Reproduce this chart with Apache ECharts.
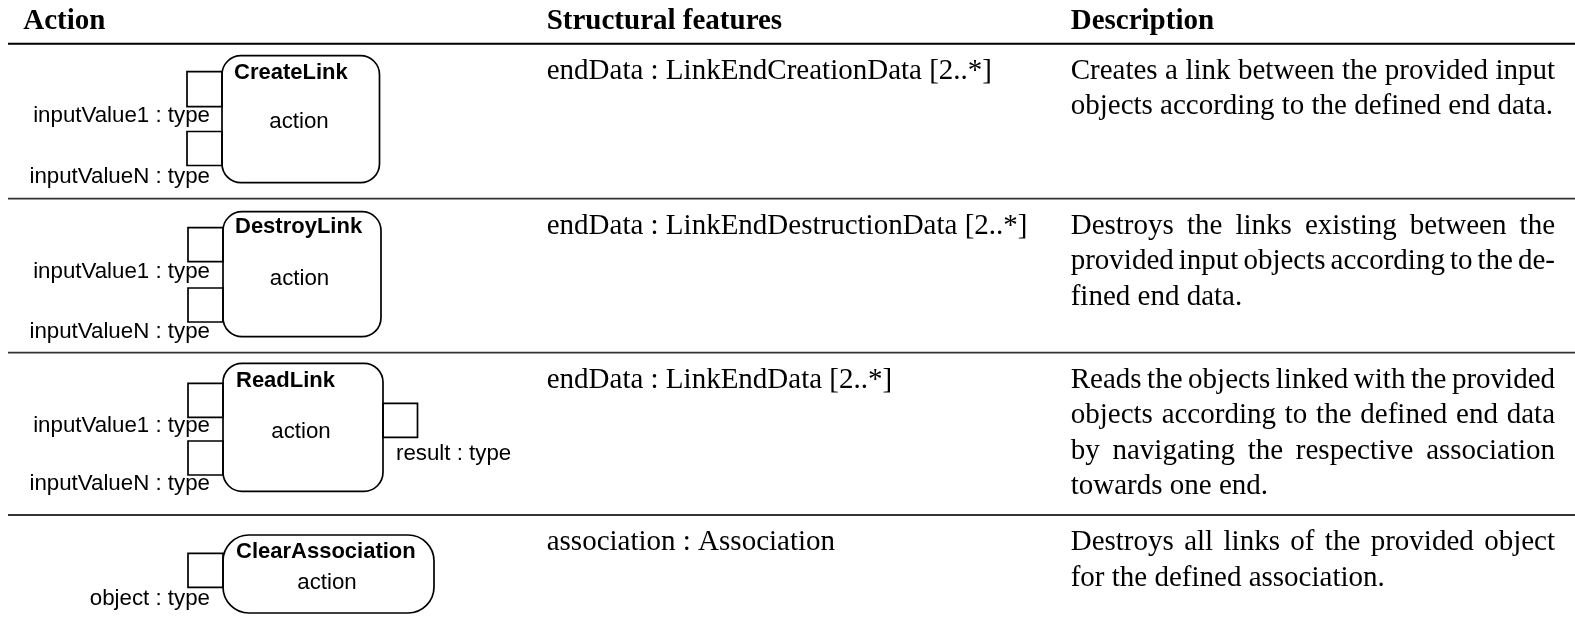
<!DOCTYPE html>
<html><head><meta charset="utf-8">
<script src="https://cdn.jsdelivr.net/npm/echarts@6/dist/echarts.min.js"></script>
<style>html,body{margin:0;padding:0;background:#fff}#c{width:1575px;height:619px}</style>
</head><body><div id="c"></div>
<script>
// ---------- data ----------
const headers = ['Action', 'Structural features', 'Description'];
const actionNames = ['CreateLink', 'DestroyLink', 'ReadLink', 'ClearAssociation'];
const actionBody = 'action';
const inputPinLabels = [
  ['inputValue1 : type', 'inputValueN : type'],
  ['inputValue1 : type', 'inputValueN : type'],
  ['inputValue1 : type', 'inputValueN : type'],
  ['object : type']
];
const outputPinLabels = [[], [], ['result : type'], []];
const features = [
  'endData : LinkEndCreationData [2..*]',
  'endData : LinkEndDestructionData [2..*]',
  'endData : LinkEndData [2..*]',
  'association : Association'
];
const descriptions = [
  ['Creates a link between the provided input', 'objects according to the defined end data.'],
  ['Destroys the links existing between the', 'provided input objects according to the de-', 'fined end data.'],
  ['Reads the objects linked with the provided', 'objects according to the defined end data', 'by navigating the respective association', 'towards one end.'],
  ['Destroys all links of the provided object', 'for the defined association.']
];

// ---------- layout ----------
const SERIF = '"Liberation Serif", "Times New Roman", serif';
const SANS = '"Liberation Sans", Arial, sans-serif';
const FS = 29, FA = 22.3, FB = 22;
const LINE = 35.5;
const ruleY = [43.7, 198.7, 352.7, 515];
const headBase = 31.7;
const colX = [23.3, 546.7, 1070.7];
const descRight = 1555;
const firstOff = 37.3;
const boxes = [
  {box: [222, 55.7, 157.5, 127, 19], pins: [[187, 71.7, 35, 35], [187, 131.5, 35, 34]], labBase: [123.3, 185], labRight: 210,
   name: [234, 81], act: [299, 130], out: null},
  {box: [223, 211.7, 158, 125, 19], pins: [[188, 227.7, 35, 34], [188, 288, 35, 34]], labBase: [280, 340], labRight: 210,
   name: [235, 235], act: [299.5, 286.7], out: null},
  {box: [223, 363.3, 160, 128, 19], pins: [[188, 383.3, 35, 34], [188, 441, 35, 34]], labBase: [433.3, 491.7], labRight: 210,
   name: [236, 388.3], act: [301, 440], out: {pin: [383, 403.3, 34.5, 34], lab: [396, 461.7]}},
  {box: [223, 535, 211, 78, 26], pins: [[188, 553.3, 35, 34]], labBase: [606.7], labRight: 210,
   name: [236, 560], act: [327, 590.7], out: null}
];

// ---------- helpers ----------
const measureCtx = document.createElement('canvas').getContext('2d');
function measure(t, size, fam, weight) {
  measureCtx.font = (weight || 'normal') + ' ' + size + 'px ' + fam;
  return measureCtx.measureText(t).width;
}
function txt(t, x, base, size, fam, weight, align) {
  const k = fam === SANS ? 0.3465 : 0.3375;
  return {type: 'text', x: x, y: base - k * size, silent: true,
    style: {text: t, fontSize: size, fontFamily: fam, fontWeight: weight || 'normal', fill: '#000',
      align: align || 'left', verticalAlign: 'middle'}};
}
function rect(x, y, w, h, r) {
  return {type: 'rect', shape: {x: x, y: y, width: w, height: h, r: r || 0}, silent: true,
    style: {fill: 'none', stroke: '#000', lineWidth: 1.7}};
}
function line(x1, y, x2, w, c) {
  return {type: 'line', shape: {x1: x1, y1: y, x2: x2, y2: y}, silent: true,
    style: {stroke: c, lineWidth: w}};
}

const els = [];
// header
headers.forEach((h, i) => els.push(txt(h, colX[i], headBase, FS, SERIF, 'bold')));
els.push(line(8, ruleY[0], 1575, 2, '#000'));
for (let i = 1; i < ruleY.length; i++) els.push(line(8, ruleY[i], 1575, 1.8, '#333'));

actionNames.forEach((name, r) => {
  const L = boxes[r];
  const top = ruleY[r];
  // structural feature
  els.push(txt(features[r], colX[1], top + firstOff, FS, SERIF));
  // description (justified, last line ragged)
  const lines = descriptions[r];
  lines.forEach((ln, j) => {
    const base = top + firstOff + j * LINE;
    if (j === lines.length - 1) { els.push(txt(ln, colX[2], base, FS, SERIF)); return; }
    const words = ln.split(' ');
    const ws = words.map(w => measure(w, FS, SERIF));
    const tot = ws.reduce((a, b) => a + b, 0);
    const gap = (descRight - colX[2] - tot) / (words.length - 1);
    let x = colX[2];
    words.forEach((w, k) => { els.push(txt(w, x, base, FS, SERIF)); x += ws[k] + gap; });
  });
  // action diagram
  const b = L.box;
  els.push(rect(b[0], b[1], b[2], b[3], b[4]));
  L.pins.forEach(p => els.push(rect(p[0], p[1], p[2], p[3])));
  inputPinLabels[r].forEach((t, k) => els.push(txt(t, L.labRight, L.labBase[k], FA, SANS, 'normal', 'right')));
  if (L.out) {
    els.push(rect(L.out.pin[0], L.out.pin[1], L.out.pin[2], L.out.pin[3]));
    outputPinLabels[r].forEach(t => els.push(txt(t, L.out.lab[0], L.out.lab[1], FA, SANS)));
  }
  els.push(txt(name, L.name[0], L.name[1], FB, SANS, 'bold'));
  els.push(txt(actionBody, L.act[0], L.act[1], FA, SANS, 'normal', 'center'));
});

const chart = echarts.init(document.getElementById('c'), null, {renderer: 'canvas'});
chart.setOption({backgroundColor: '#fff', animation: false, graphic: {elements: els}});
</script></body></html>
